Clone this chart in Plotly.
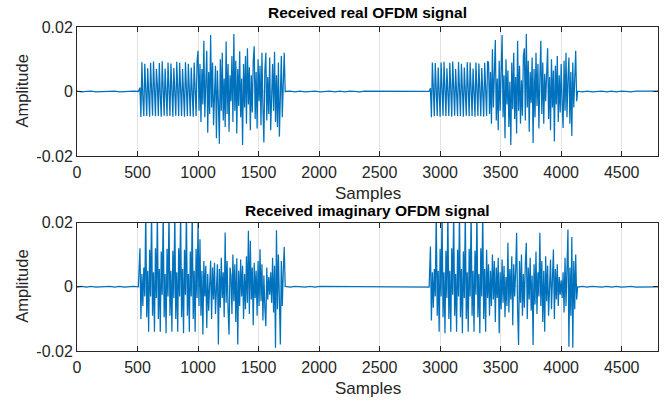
import plotly.graph_objects as go

# ---------------- data (amplitudes) ----------------
STEP = 8          # samples between successive burst values

real_noise_start = [0.0001, -0.0001, 0.0000, 0.0001, -0.0001, 0.0000, -0.0001, 0.0001, 0.0001, -0.0001, 0.0000, -0.0001, 0.0001, 0.0000]
real_pre_1 = [
    0.0012, -0.0079, 0.0091, -0.0020, -0.0077, 0.0086, 0.0015, -0.0076, 0.0072,
    -0.0010, -0.0078, 0.0089, 0.0020, -0.0075, 0.0093, -0.0025, -0.0077, 0.0070,
    0.0018, -0.0076, 0.0088, -0.0012, -0.0078, 0.0094, 0.0025, -0.0075, 0.0071,
    -0.0018, -0.0077, 0.0090, 0.0012, -0.0076, 0.0087, -0.0022, -0.0078, 0.0073,
    0.0016, -0.0075, 0.0092, -0.0015, -0.0077, 0.0089, 0.0022, -0.0076, 0.0070,
    -0.0010, -0.0078, 0.0091, 0.0018, -0.0076, 0.0086, -0.0020, -0.0077, 0.0074,
    0.0014, -0.0078, 0.0090, -0.0016, -0.0076, 0.0095,
]
real_data_1 = [
    0.0126, -0.0060, 0.0085, -0.0095, 0.0070, -0.0040, 0.0157, -0.0080, 0.0045, 0.0126,
    -0.0128, 0.0060, -0.0070, 0.0175, -0.0050, 0.0090, -0.0105, 0.0030, 0.0080, -0.0145,
    0.0065, -0.0035, -0.0162, 0.0100, -0.0060, 0.0120, -0.0090, 0.0040, -0.0110, 0.0155,
    -0.0070, 0.0085, -0.0125, 0.0050, -0.0030, 0.0110, -0.0095, 0.0178, -0.0060, 0.0095,
    -0.0130, 0.0070, -0.0045, 0.0125, -0.0080, 0.0040, -0.0166, 0.0085, -0.0050, 0.0110,
    -0.0100, 0.0134, -0.0040, 0.0075, -0.0120, 0.0050, -0.0065, 0.0095, 0.0140, -0.0085,
    0.0060, -0.0115, 0.0100, -0.0030, 0.0080, -0.0105, 0.0120, -0.0050, -0.0158, 0.0065,
    0.0120, -0.0090, 0.0045, -0.0070, 0.0105, -0.0120, 0.0035, 0.0085, -0.0060, 0.0123,
    -0.0095, 0.0050, -0.0110, 0.0090, -0.0140, 0.0060, 0.0110, -0.0080, 0.0030, 0.0120,
]
real_noise_mid = [0.0000, 0.0001, -0.0001, 0.0001, -0.0001, 0.0000, 0.0001, -0.0001, 0.0000, 0.0001,
                  -0.0001, 0.0001, -0.0001, 0.0001, 0.0000, -0.0001, 0.0001, 0.0001, -0.0001, 0.0000,
                  -0.0001, 0.0000, 0.0001, -0.0001, 0.0001, -0.0001, 0.0001, -0.0001, 0.0001, 0.0000]
real_pre_2 = [
    0.0010, -0.0080, 0.0090, -0.0022, -0.0077, 0.0088, 0.0016, -0.0076, 0.0074,
    -0.0012, -0.0078, 0.0090, 0.0021, -0.0075, 0.0092, -0.0024, -0.0077, 0.0072,
    0.0017, -0.0076, 0.0089, -0.0013, -0.0078, 0.0093, 0.0024, -0.0075, 0.0070,
    -0.0017, -0.0077, 0.0091, 0.0013, -0.0076, 0.0086, -0.0021, -0.0078, 0.0074,
    0.0015, -0.0075, 0.0091, -0.0016, -0.0077, 0.0090, 0.0021, -0.0076, 0.0071,
    -0.0011, -0.0078, 0.0090, 0.0017, -0.0076, 0.0087, -0.0019, -0.0077, 0.0073,
    0.0015, -0.0078, 0.0089, -0.0015, -0.0076, 0.0094,
]
real_data_2 = [
    0.0090, -0.0070, 0.0060, -0.0100, 0.0131, -0.0050, 0.0085, 0.0160, -0.0090, 0.0040,
    -0.0120, 0.0095, -0.0060, 0.0070, 0.0175, -0.0080, 0.0050, -0.0145, 0.0100, -0.0040,
    0.0065, -0.0110, 0.0030, -0.0166, 0.0090, -0.0055, 0.0120, -0.0085, 0.0045, -0.0130,
    0.0157, -0.0060, 0.0080, -0.0100, 0.0035, -0.0075, 0.0110, 0.0134, -0.0090, 0.0178,
    -0.0050, 0.0095, -0.0125, 0.0060, -0.0035, 0.0105, -0.0160, 0.0070, -0.0080, 0.0120,
    -0.0045, 0.0085, -0.0115, 0.0040, 0.0157, -0.0070, 0.0090, -0.0100, 0.0055, -0.0030,
    0.0075, 0.0134, -0.0085, 0.0045, -0.0120, 0.0100, -0.0050, 0.0065, -0.0155, 0.0080,
    -0.0040, 0.0110, -0.0095, 0.0050, -0.0065, 0.0085, -0.0035, -0.0113, 0.0095, -0.0060,
    0.0120, -0.0080, 0.0040, 0.0105, -0.0100, 0.0060, -0.0138, 0.0090, -0.0050, 0.0070,
    0.0126, -0.0030,
]
real_noise_end = [0.0001, -0.0001, 0.0001, -0.0001, 0.0000, 0.0001, -0.0001, 0.0001, -0.0001,
                  0.0001, 0.0000, -0.0001, 0.0001, 0.0001, -0.0001, 0.0000, -0.0001, 0.0001]

imag_noise_start = [-0.0001, 0.0001, -0.0001, 0.0001, -0.0001, 0.0000, 0.0000, 0.0001, -0.0001, 0.0001, -0.0001, 0.0001, 0.0001, 0.0000]
imag_pre_1 = [
    0.0120, -0.0100, 0.0040, -0.0060, 0.0060, -0.0030,
    0.0240, -0.0095, 0.0050, -0.0140, 0.0115, -0.0030,
    0.0240, -0.0090, 0.0045, -0.0140, 0.0120, -0.0035,
    0.0240, -0.0100, 0.0055, -0.0140, 0.0110, -0.0025,
    0.0240, -0.0095, 0.0040, -0.0145, 0.0118, -0.0030,
    0.0240, -0.0090, 0.0050, -0.0140, 0.0112, -0.0035,
    0.0240, -0.0100, 0.0045, -0.0140, 0.0120, -0.0030,
    0.0240, -0.0095, 0.0055, -0.0145, 0.0115, -0.0025,
    0.0240, -0.0090, 0.0040, -0.0140, 0.0110, -0.0030,
    0.0240, -0.0100, 0.0050, -0.0140, 0.0118, -0.0035,
]
imag_data_1 = [
    0.0200, -0.0060, 0.0148, -0.0090, 0.0050, -0.0149, 0.0080, -0.0030, 0.0065, -0.0128,
    0.0040, -0.0075, 0.0030, 0.0081, -0.0100, 0.0060, -0.0040, 0.0075, -0.0085, 0.0025,
    0.0070, -0.0180, 0.0055, -0.0065, 0.0090, -0.0035, 0.0045, -0.0095, 0.0169, -0.0050,
    0.0080, -0.0070, -0.0149, 0.0060, 0.0035, -0.0085, 0.0100, -0.0045, 0.0070, -0.0110,
    0.0089, -0.0180, 0.0050, -0.0060, 0.0085, -0.0030, 0.0065, -0.0100, 0.0040, -0.0070,
    0.0095, -0.0050, 0.0174, -0.0085, 0.0143, -0.0040, 0.0060, -0.0120, 0.0075, -0.0035,
    0.0050, -0.0090, 0.0080, -0.0060, 0.0117, -0.0045, 0.0070, -0.0105, 0.0035, -0.0065,
    -0.0123, 0.0060, -0.0040, 0.0030, -0.0025, 0.0045, -0.0050, 0.0090, -0.0080, 0.0065,
    -0.0190, 0.0176, -0.0070, 0.0100, -0.0120, -0.0180, 0.0080, -0.0060, 0.0050, 0.0124,
]
imag_noise_mid = [0.0001, -0.0001, 0.0001, 0.0000, -0.0001, 0.0001, -0.0001, 0.0001, 0.0001, -0.0001,
                  0.0000, 0.0001, -0.0001, 0.0001, -0.0001, 0.0001, 0.0000, -0.0001, 0.0001, -0.0001,
                  0.0001, -0.0001, 0.0000, 0.0001, -0.0001, 0.0001, -0.0001, 0.0001, 0.0000, -0.0001]
imag_pre_2 = [
    0.0125, -0.0105, 0.0045, -0.0065, 0.0055, -0.0030,
    0.0240, -0.0090, 0.0050, -0.0140, 0.0118, -0.0030,
    0.0240, -0.0095, 0.0045, -0.0145, 0.0112, -0.0035,
    0.0240, -0.0100, 0.0050, -0.0140, 0.0120, -0.0025,
    0.0240, -0.0090, 0.0040, -0.0140, 0.0115, -0.0030,
    0.0240, -0.0095, 0.0055, -0.0145, 0.0110, -0.0035,
    0.0240, -0.0100, 0.0045, -0.0140, 0.0118, -0.0030,
    0.0240, -0.0090, 0.0050, -0.0140, 0.0112, -0.0025,
    0.0240, -0.0095, 0.0040, -0.0145, 0.0120, -0.0030,
    0.0240, -0.0100, 0.0055, -0.0140, 0.0115, -0.0035,
]
imag_data_2 = [
    0.0070, -0.0090, 0.0050, -0.0060, 0.0100, -0.0040, 0.0080, -0.0110, 0.0060, -0.0035,
    0.0090, -0.0145, 0.0045, -0.0070, 0.0085, -0.0050, 0.0065, -0.0095, 0.0030, -0.0060,
    0.0137, -0.0080, 0.0055, -0.0040, 0.0095, -0.0120, 0.0070, -0.0030, 0.0050, 0.0168,
    -0.0070, -0.0181, 0.0080, -0.0050, 0.0100, -0.0090, 0.0040, -0.0065, 0.0075, 0.0137,
    -0.0100, 0.0060, -0.0040, 0.0090, -0.0075, 0.0035, -0.0181, 0.0070, -0.0055, 0.0110,
    -0.0085, 0.0045, -0.0030, 0.0168, -0.0060, 0.0080, -0.0110, 0.0050, -0.0140, 0.0095,
    -0.0045, 0.0065, -0.0090, 0.0040, 0.0085, -0.0070, 0.0030, 0.0116, -0.0100, 0.0055,
    -0.0040, 0.0070, -0.0060, 0.0030, -0.0025, 0.0020, -0.0035, 0.0045, -0.0080, 0.0090,
    -0.0060, 0.0110, 0.0178, -0.0187, 0.0060, -0.0090, 0.0155, -0.0190, 0.0080, -0.0070,
    0.0100, -0.0040,
]
imag_noise_end = [-0.0001, 0.0001, -0.0001, 0.0001, 0.0000, -0.0001, 0.0001, -0.0001, 0.0001,
                  -0.0001, 0.0000, 0.0001, -0.0001, -0.0001, 0.0001, -0.0001, 0.0001, 0.0000]

# segment start samples and sample spacing of each segment
seg_starts = [0, 520, 1000, 1720, 2920, 3400, 4136]
seg_steps = [39, STEP, STEP, 41, STEP, STEP, 40]

x_ticks = [0, 500, 1000, 1500, 2000, 2500, 3000, 3500, 4000, 4500]
y_ticks = [-0.02, 0, 0.02]
y_tick_text = ["-0.02", "0", "0.02"]


def build(segments):
    xs, ys = [], []
    for start, step, vals in zip(seg_starts, seg_steps, segments):
        for i, v in enumerate(vals):
            xs.append(start + step * i)
            ys.append(v)
    return xs, ys


rx, ry = build([real_noise_start, real_pre_1, real_data_1, real_noise_mid, real_pre_2, real_data_2, real_noise_end])
ix, iy = build([imag_noise_start, imag_pre_1, imag_data_1, imag_noise_mid, imag_pre_2, imag_data_2, imag_noise_end])

LINE = dict(color="#0072BD", width=1.25)
fig = go.Figure()
fig.add_trace(go.Scatter(x=rx, y=ry, mode="lines", line=LINE, xaxis="x", yaxis="y", showlegend=False))
fig.add_trace(go.Scatter(x=ix, y=iy, mode="lines", line=LINE, xaxis="x2", yaxis="y2", showlegend=False))

FONT = "Liberation Sans, Arial, Helvetica, sans-serif"
AX = "#262626"
xcommon = dict(range=[0, 4800], tickvals=x_ticks, ticks="inside", ticklen=5, tickcolor=AX,
               showline=True, linecolor=AX, linewidth=1, mirror="ticks",
               showgrid=True, gridcolor="#e3e3e3", gridwidth=1, zeroline=False,
               ticklabelstandoff=2,
               tickfont=dict(family=FONT, size=16, color=AX))
ycommon = dict(range=[-0.02, 0.02], tickvals=y_ticks, ticktext=y_tick_text, ticks="inside", ticklen=5,
               tickcolor=AX, showline=True, linecolor=AX, linewidth=1, mirror="ticks",
               showgrid=True, gridcolor="#e3e3e3", zeroline=False,
               tickfont=dict(family=FONT, size=16, color=AX))

TOP = [0.602, 1.0]
BOT = [0.0, 0.3966]
fig.update_layout(
    width=668, height=403,
    margin=dict(l=77, r=10, t=27, b=52),
    paper_bgcolor="white", plot_bgcolor="white",
    font=dict(family=FONT, color=AX),
    xaxis=dict(anchor="y", domain=[0, 1], **xcommon),
    yaxis=dict(anchor="x", domain=TOP, **ycommon),
    xaxis2=dict(anchor="y2", domain=[0, 1], **xcommon),
    yaxis2=dict(anchor="x2", domain=BOT, **ycommon),
)

ann = []
for dom, title, tshift, sshift in [(TOP, "Received real OFDM signal", 15, -38),
                                   (BOT, "Received imaginary OFDM signal", 12.5, -37)]:
    ann.append(dict(text="<b>%s</b>" % title, x=0.5, y=dom[1], xref="paper", yref="paper",
                    xanchor="center", yanchor="middle", yshift=tshift, showarrow=False,
                    font=dict(family=FONT, size=15.5, color="black")))
    ann.append(dict(text="Samples", x=0.5, y=dom[0], xref="paper", yref="paper",
                    xanchor="center", yanchor="middle", yshift=sshift, showarrow=False,
                    font=dict(family=FONT, size=17, color=AX)))
    ann.append(dict(text="Amplitude", x=0, y=(dom[0] + dom[1]) / 2, xref="paper", yref="paper",
                    xanchor="center", yanchor="middle", xshift=-55, textangle=-90, showarrow=False,
                    font=dict(family=FONT, size=16.5, color=AX)))
fig.update_layout(annotations=ann)

fig.write_html("out.html")
